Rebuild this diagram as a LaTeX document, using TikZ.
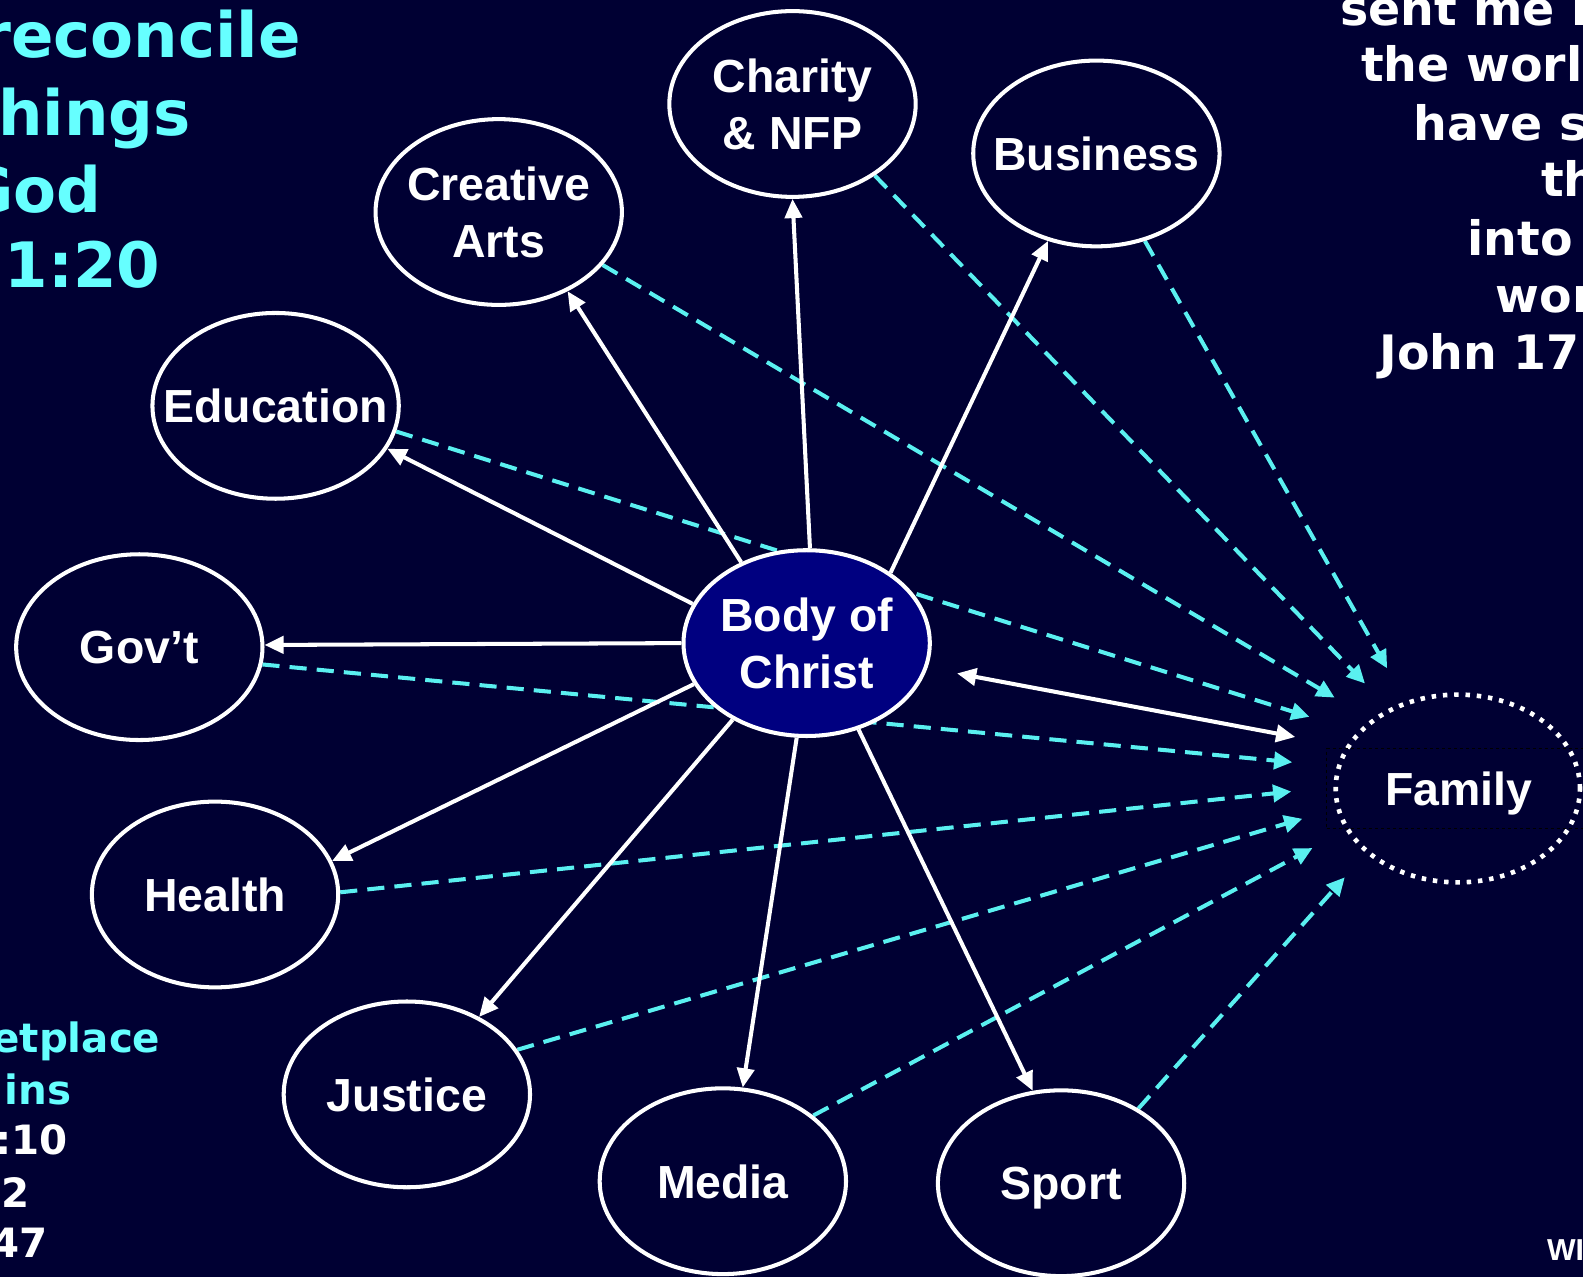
\documentclass[tikz,border=0pt]{standalone}
\usepackage{fontspec}
\setmainfont{Liberation Sans}
\newfontfamily\sidefont{DejaVu Sans}
\usetikzlibrary{arrows.meta,shapes.geometric}
\definecolor{bgc}{RGB}{0,0,51}
\definecolor{navyc}{RGB}{0,0,128}
\definecolor{cyanl}{RGB}{102,255,255}
\definecolor{cyand}{RGB}{90,240,240}
\pgfdeclarelayer{back}
\pgfdeclarelayer{lines}
\pgfsetlayers{back,lines,main}
\begin{document}
\begin{tikzpicture}[x=0.5pt,y=-0.5pt,
  area/.style={ellipse,draw=white,line width=2pt,fill=bgc,minimum width=122pt,minimum height=92pt,inner xsep=-20pt,inner ysep=-10pt,text depth=0pt,text=white,font=\bfseries\fontsize{23}{28}\selectfont,align=center},
  hub/.style={area,fill=navyc},
  famring/.style={ellipse,draw=white,line width=2.3pt,dash pattern=on 2.2pt off 3.4pt,minimum width=121pt,minimum height=93pt,inner sep=0pt},
  fambox/.style={rectangle,draw=black,line width=0.8pt,dash pattern=on 1.5pt off 1.5pt,minimum width=131pt,minimum height=39.5pt,inner sep=0pt,text depth=0pt,text=white,font=\bfseries\fontsize{23}{28}\selectfont},
  link/.style={white,line width=2pt,-{Triangle[length=9.5pt,width=8.5pt]}},
  biway/.style={white,line width=2pt,{Triangle[length=9.5pt,width=8.5pt]}-{Triangle[length=9.5pt,width=8.5pt]}},
  flow/.style={cyand,line width=2pt,dash pattern=on 8.5pt off 5pt,-{Triangle[length=9pt,width=8.5pt]}},
  bigcyan/.style={anchor=base west,inner sep=0pt,text=cyanl,font=\sidefont\bfseries\fontsize{31}{36}\selectfont},
  verse/.style={anchor=base west,inner sep=0pt,text=white,font=\sidefont\bfseries\fontsize{23.5}{28}\selectfont},
  smallcyan/.style={anchor=base west,inner sep=0pt,text=cyanl,font=\sidefont\bfseries\fontsize{20}{24}\selectfont},
  smallwhite/.style={anchor=base west,inner sep=0pt,text=white,font=\sidefont\bfseries\fontsize{20}{24}\selectfont},
  cornertext/.style={anchor=base west,inner sep=0pt,text=white,font=\bfseries\fontsize{15}{18}\selectfont}
]
\useasboundingbox (0,0) rectangle (1568,1265);
\begin{pgfonlayer}{back}
  \fill[bgc] (0,0) rectangle (1568,1265);
\end{pgfonlayer}

% nodes
\node[area] (charity)   at (785,103)  {Charity\\\& NFP};
\node[area] (creative)  at (494,210)  {Creative\\Arts};
\node[area] (business)  at (1086,152) {Business};
\node[area] (education) at (273,402)  {Education};
\node[area] (gov)       at (138,641)  {Gov’t};
\node[hub]  (body)      at (799,637)  {Body of\\Christ};
\node[area] (health)    at (213,886)  {Health};
\node[area] (justice)   at (403,1084) {Justice};
\node[area] (media)     at (716,1170) {Media};
\node[area] (sport)     at (1051,1172){Sport};
\node[famring] (family) at (1444,781) {};
\node[fambox] (famtext) at (1445,781) {Family};

% free ends near Family
\coordinate (t1) at (1374,662);
\coordinate (t2) at (1352,677);
\coordinate (t3) at (1322,691);
\coordinate (t4) at (1297,710);
\coordinate (t5) at (1280,755);
\coordinate (t6) at (1279,784);
\coordinate (t7) at (1290,811);
\coordinate (t8) at (1300,840);
\coordinate (t9) at (1332,869);
\coordinate (d1) at (948,667);
\coordinate (d2) at (1283,730);

\begin{pgfonlayer}{lines}
  \draw[flow] (business.-61) -- (t1);
  \draw[flow] (charity.-41) -- (t2);
  \draw[flow] (creative.-27) -- (t3);
  \draw[flow] (education.-12) -- (t4);
  \draw[flow] (gov.-8) -- (t5);
  \draw[flow] (health.1.5) -- (t6);
  \draw[flow] (justice.22.5) -- (t7);
  \draw[flow] (media.36) -- (t8);
  \draw[flow] (sport.44) -- (t9);

  \draw[link] (body.129) -- (creative.-49);
  \draw[link] (body.88) -- (charity.-90);
  \draw[link] (body.40.5) -- (business.-119);
  \draw[link] (body.161) -- (education.-21);
  \draw[link] (body.180) -- (gov.1);
  \draw[link] (body.200) -- (health.16.5);
  \draw[link] (body.226) -- (justice.47.5);
  \draw[link] (body.264) -- (media.78);
  \draw[link] (body.301) -- (sport.107);
  \draw[biway] (d1) -- (d2);
\end{pgfonlayer}

% side texts
\node[bigcyan] (l1) at (-20,57) {reconcile};
\node[bigcyan] (l2) at (-2,134) {hings};
\node[bigcyan] (l3) at (-38,210) {God};
\node[bigcyan] (l4) at (4,285) {1:20};

\node[verse] (r1) at (1327,25)  {sent me i};
\node[verse] (r2) at (1348,81)  {the worl};
\node[verse] (r3) at (1400,139) {have s};
\node[verse] (r4) at (1526,195) {th};
\node[verse] (r5) at (1453,253) {into};
\node[verse] (r6) at (1481,310) {wor};
\node[verse] (r7) at (1366,366) {John 17};

\node[smallcyan] (b1) at (-8,1043) {etplace};
\node[smallcyan] (b2) at (4,1094) {ins};
\node[smallwhite] (b3) at (-5,1144) {:10};
\node[smallwhite] (b4) at (1,1196) {2};
\node[smallwhite] (b5) at (-9,1246) {47};

\node[cornertext] (wm) at (1532,1249) {WI};
\end{tikzpicture}
\end{document}
